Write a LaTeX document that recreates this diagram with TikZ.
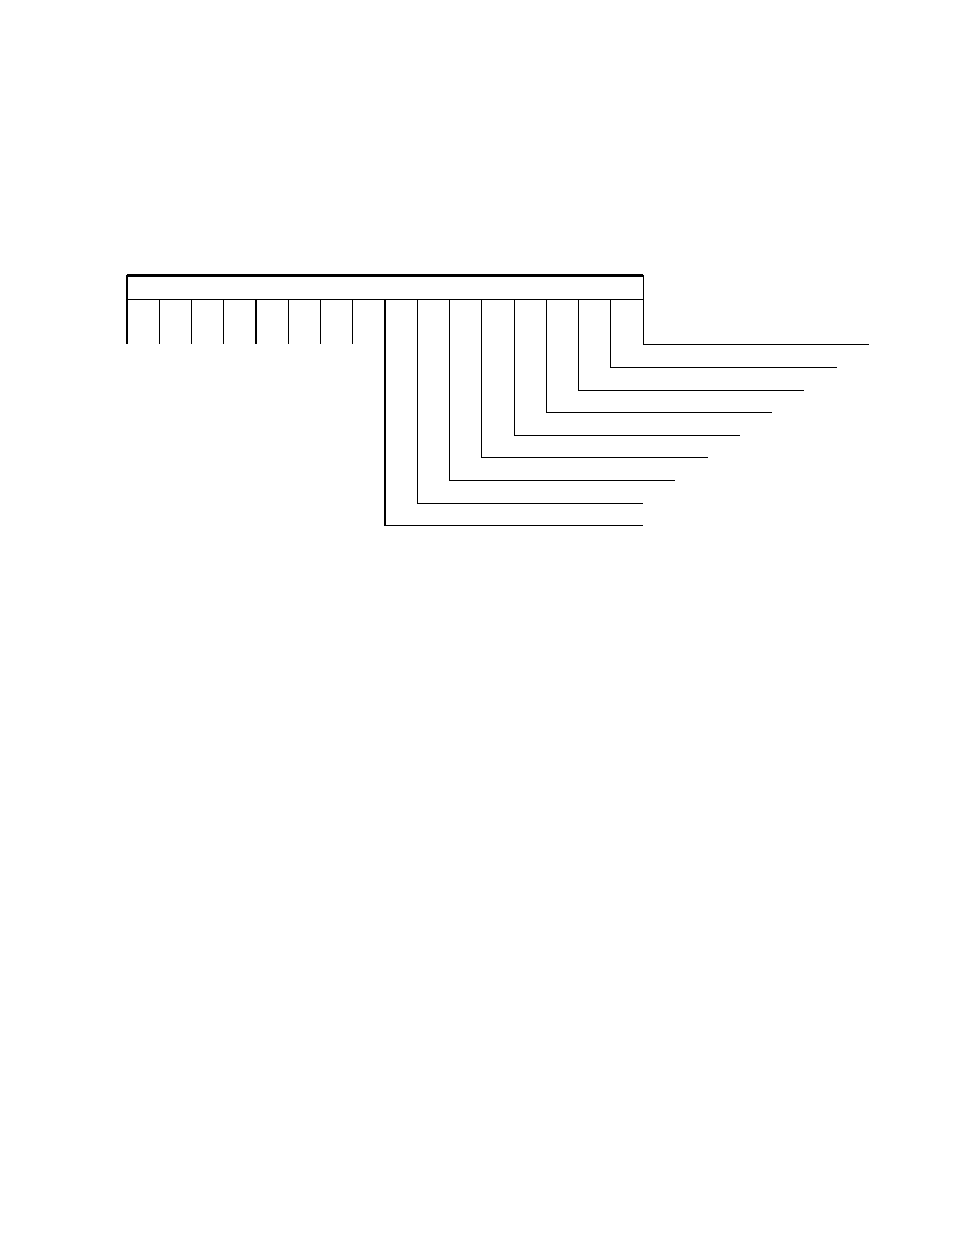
\documentclass[tikz,border=0pt]{standalone}
\usepackage{tikz}

\tikzset{
  wire/.style={line width=0.65pt},
  regtop/.style={line width=1.3pt},
}

\begin{document}
\begin{tikzpicture}[x=0.022632cm, y=-0.022632cm]
            \useasboundingbox (0,0) rectangle (954,1235);
            % register outline
            \coordinate (regtl) at (127,275.5);
            \coordinate (regbr) at (643,299);
            \draw[wire] (regtl) rectangle (regbr);
            \draw[regtop] (regtl) -- (regtl -| regbr);
            % short bit lines
            \foreach \i in {0,...,7}{
                \coordinate (bit\i) at ({127+32.25*\i},299);
                \coordinate (tip\i) at ({127+32.25*\i},344);
                \draw[wire] (bit\i) -- (tip\i);
            }
            % bent bit lines
            \foreach \k in {0,...,8}{
                \pgfmathsetmacro\bx{127+32.25*(\k+8)}
                \pgfmathsetmacro\ty{525.7-22.6*\k}
                \pgfmathsetmacro\ex{max(643,643+32.25*(\k-1))}
                \coordinate (fld\k) at (\bx,299);
                \coordinate (out\k) at (\ex,\ty);
                \draw[wire] (fld\k) |- (out\k);
            }
        \end{tikzpicture}
\end{document}
